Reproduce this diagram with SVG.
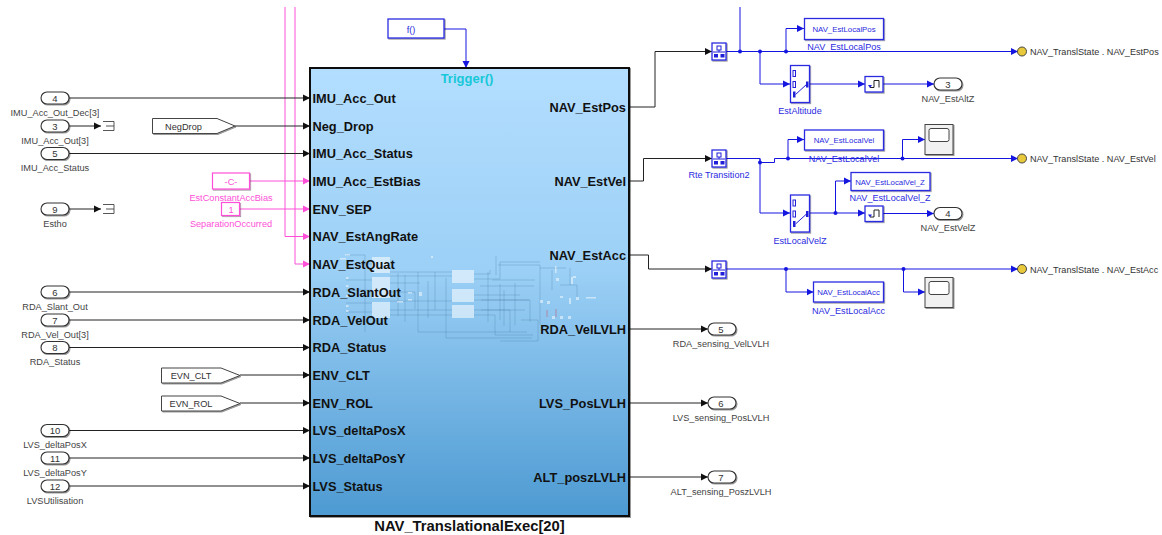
<svg xmlns="http://www.w3.org/2000/svg" width="1162" height="535" viewBox="0 0 1162 535">
<style>
text{font-family:"Liberation Sans",Arial,sans-serif}
.l{font-size:9.200px;fill:#444;text-anchor:middle}
.n{font-size:9.500px;fill:#333;text-anchor:middle}
.b{font-size:9.100px;fill:#2a2ae0;text-anchor:middle}
.bb{font-size:7.800px;fill:#2a2ae0;text-anchor:middle}
.p{font-size:9.200px;fill:#ff50d8;text-anchor:middle}
.pt{font-size:12.800px;font-weight:bold;fill:#111}
.r{text-anchor:end}
.g{font-size:9.200px;fill:#333;text-anchor:middle}
.st{font-size:9.100px;fill:#333}
.pill{fill:#fff;stroke:#333;stroke-width:1.1;filter:url(#s)}
.goto{fill:#fff;stroke:#444;stroke-width:1;filter:url(#s)}
.bk{fill:#fff;stroke:#2a2ae0;stroke-width:1.3;filter:url(#s)}
.pk{fill:#fff;stroke:#ff50d8;stroke-width:1.2;filter:url(#s)}
.wk{fill:none;stroke:#222;stroke-width:1}
.wb{fill:none;stroke:#1515e0;stroke-width:1}
.wp{fill:none;stroke:#ff50d8;stroke-width:1}
.ak{marker-end:url(#ak)}.ab{marker-end:url(#ab)}.ap{marker-end:url(#ap)}
.ic{fill:#2020d8}
.icl{fill:none;stroke:#2020d8;stroke-width:1}
.gh{fill:none;stroke:#3a6f98;stroke-width:.7;opacity:.35}
.gr{fill:#fff;opacity:.55}
.gs{fill:#fff;opacity:.5}
</style>
<defs>
<linearGradient id="bg" x1="0" y1="0" x2="0" y2="1"><stop offset="0" stop-color="#b3deff"/><stop offset=".45" stop-color="#9cd0f6"/><stop offset="1" stop-color="#4d9ad2"/></linearGradient>
<filter id="s" x="-20%" y="-20%" width="150%" height="150%"><feDropShadow dx="1" dy="1" stdDeviation=".7" flood-color="#000" flood-opacity=".4"/></filter>
<marker id="ak" markerUnits="userSpaceOnUse" markerWidth="8" markerHeight="8" refX="7" refY="4" orient="auto"><path d="M0,.5L7,4L0,7.5z" fill="#111"/></marker>
<marker id="ab" markerUnits="userSpaceOnUse" markerWidth="8" markerHeight="8" refX="7" refY="4" orient="auto"><path d="M0,.5L7,4L0,7.5z" fill="#1515e0"/></marker>
<marker id="ap" markerUnits="userSpaceOnUse" markerWidth="8" markerHeight="8" refX="7" refY="4" orient="auto"><path d="M0,.5L7,4L0,7.5z" fill="#ff50d8"/></marker>
<g id="rt"><rect class="bk" x="0" y="0" width="14" height="17"/><rect class="icl" x="5" y="3" width="4" height="4"/><path class="icl" d="M7,7V9"/><path class="icl" d="M1,9H13"/><rect class="ic" x="2" y="11" width="4" height="3.5"/><rect class="ic" x="8.500" y="11" width="4" height="3.500"/></g>
<g id="sw"><rect class="bk" x="0" y="0" width="19" height="37"/><rect class="icl" x="2.500" y="5" width="2.500" height="6"/><rect class="icl" x="2.500" y="16" width="2.500" height="6"/><rect class="ic" x="2.500" y="26" width="2.500" height="6"/><rect class="ic" x="15.500" y="16" width="2.500" height="6"/><path class="icl" d="M5,29L16,19"/></g>
<g id="uz"><rect class="bk" x="0" y="0" width="18" height="15.500"/><path d="M5,11H9V4H14V11" fill="none" stroke="#222" stroke-width="1"/><path d="M3,8.500L5,11.500L7,8.500z" fill="#2020d8"/></g>
<g id="sc"><rect x="0" y="0" width="28" height="30" fill="#f1f1f1" stroke="#444" stroke-width="1" filter="url(#s)"/><rect x="4" y="4" width="20" height="13" rx="2" fill="#fff" stroke="#444" stroke-width="1"/></g>
<g id="tm"><path d="M0,.5H11V9.500H0M3,5H11" fill="none" stroke="#444" stroke-width=".9"/></g>
</defs>

<g id="connectors">
<path class="wp ap" d="M285,7V236.500H310"/>
<path class="wp ap" d="M295,7V264H310"/>
<path class="wp ap" d="M249,181H310"/>
<path class="wp ap" d="M240,209H310"/>
<path class="wk ak" d="M69,98H310"/>
<path class="wk ak" d="M69,126H101"/>
<path class="wk ak" d="M235,126H310"/>
<path class="wk ak" d="M69,153.500H310"/>
<path class="wk ak" d="M69,209H101"/>
<path class="wk ak" d="M69,292H310"/>
<path class="wk ak" d="M69,320H310"/>
<path class="wk ak" d="M69,347.500H310"/>
<path class="wk ak" d="M240,375H310"/>
<path class="wk ak" d="M240,403H310"/>
<path class="wk ak" d="M69,430.500H310"/>
<path class="wk ak" d="M69,458H310"/>
<path class="wk ak" d="M69,486H310"/>
<path class="wb ab" d="M444,29H466V68"/>
<path class="wk ak" d="M629,107H655V51.500H712"/>
<path class="wk ak" d="M629,181H643.500V158.500H712"/>
<path class="wk ak" d="M629,255H648.500V269H712"/>
<path class="wk ak" d="M629,329H708"/>
<path class="wk ak" d="M629,403H708"/>
<path class="wk ak" d="M629,477H708"/>
<path class="wb" d="M740,7V51.500"/>
<path class="wb ab" d="M726,51.500H1018"/>
<path class="wb ab" d="M786,51.500V28.500H804"/>
<path class="wb ab" d="M760,51.500V84H790"/>
<path class="wb ab" d="M809,84H865"/>
<path class="wb ab" d="M883,84H934"/>
<path class="wb" d="M726,158.500H760V162.500H774.500V158.500"/>
<path class="wb ab" d="M774.500,158.500H1018"/>
<path class="wb ab" d="M760,158.500V213H790"/>
<path class="wb ab" d="M788,158.500V139.500H804"/>
<path class="wb ab" d="M902.500,158.500V139.500H925"/>
<path class="wb ab" d="M809,213H865"/>
<path class="wb ab" d="M835.500,213V181H851"/>
<path class="wb ab" d="M883,213.500H934"/>
<path class="wb ab" d="M726,269H1018"/>
<path class="wb ab" d="M786,269V292H813.500"/>
<path class="wb ab" d="M903.500,269V292H925"/>
<g fill="#1515e0">
<circle cx="740" cy="51.500" r="2"/><circle cx="760" cy="51.500" r="2"/><circle cx="786" cy="51.500" r="2"/>
<circle cx="760" cy="162.500" r="2"/><circle cx="788" cy="158.500" r="2"/><circle cx="902.500" cy="158.500" r="2"/>
<circle cx="835.500" cy="213" r="2"/><circle cx="786" cy="269" r="2"/><circle cx="903.500" cy="269" r="2"/>
</g>
</g>

<g id="NAV_TranslationalExec">
<rect x="310" y="68" width="319" height="448" fill="url(#bg)" stroke="#111" stroke-width="2" filter="url(#s)"/>
<g id="ghost">
<rect class="gr" x="372" y="257" width="18" height="16"/><rect class="gr" x="372" y="277" width="18" height="21"/><rect class="gr" x="372" y="302" width="18" height="16"/>
<rect class="gr" x="452" y="270" width="22" height="13"/><rect class="gr" x="452" y="289" width="22" height="13"/><rect class="gr" x="452" y="305" width="22" height="13"/>
<path class="gh" d="M346,255H365V332M346,264H372M346,280H372M346,290H372M346,303H372M346,312H372M390,272H452M390,276H452M390,283H420M390,292H415V309M390,301H452M390,310H452M390,315H452M398,273V316M405,275V322M418,272V332H527M428,281V318M435,272V310M446,278V338H532M474,274H490V270M474,279H500V262H540M474,295H520M474,300H530V322M474,310H510V332M474,315H495V335H533M496,256V275M498,265H540V325M488,272V322M492,280H535M500,284V320M504,290V326M515,283V325M480,286H534M481,300H529M481,310H525M521,320H538V341H500M540,268H566M552,270V290M570,268V285M560,285H577V297"/>
<g class="gs"><rect x="340" y="258" width="6" height="1.500"/><rect x="345" y="254" width="5" height="1.500"/><rect x="346" y="277" width="2.500" height="2"/><rect x="346" y="285" width="2.500" height="2"/><rect x="346" y="295" width="2.500" height="2"/><rect x="346" y="305" width="2.500" height="2"/><rect x="346" y="310" width="2.500" height="2"/><rect x="408" y="292" width="4" height="1.500"/><rect x="408" y="299" width="4" height="1.500"/><rect x="419" y="292" width="3" height="4"/><rect x="397" y="301" width="6" height="1.500"/><rect x="431" y="256" width="2" height="2"/><rect x="555" y="250" width="2" height="2"/><rect x="555" y="266" width="1.500" height="7"/><rect x="571" y="277" width="2" height="7"/><rect x="556" y="278" width="3" height="3"/><rect x="573" y="276" width="3" height="2"/><rect x="540" y="300" width="3" height="3"/><rect x="547" y="301" width="3" height="3"/><rect x="560" y="296" width="3" height="2"/><rect x="569" y="298" width="2" height="6"/><rect x="576" y="297" width="3" height="3"/><rect x="586" y="297" width="10" height="1.500"/><rect x="552" y="316" width="3" height="3"/><rect x="560" y="316" width="3" height="3"/><rect x="568" y="316" width="3" height="3"/></g>
<path d="M547,310V317M556,309V317" stroke="#c06a80" stroke-width=".8" opacity=".8"/>
</g>
<text x="467" y="83" font-size="13" font-weight="bold" fill="#16c8d8" text-anchor="middle">Trigger()</text>
<text class="pt" x="312.500" y="102.500">IMU_Acc_Out</text>
<text class="pt" x="312.500" y="131">Neg_Drop</text>
<text class="pt" x="312.500" y="158">IMU_Acc_Status</text>
<text class="pt" x="312.500" y="186">IMU_Acc_EstBias</text>
<text class="pt" x="312.500" y="213.500">ENV_SEP</text>
<text class="pt" x="312.500" y="241">NAV_EstAngRate</text>
<text class="pt" x="312.500" y="269">NAV_EstQuat</text>
<text class="pt" x="312.500" y="297">RDA_SlantOut</text>
<text class="pt" x="312.500" y="325">RDA_VelOut</text>
<text class="pt" x="312.500" y="352">RDA_Status</text>
<text class="pt" x="312.500" y="380">ENV_CLT</text>
<text class="pt" x="312.500" y="408">ENV_ROL</text>
<text class="pt" x="312.500" y="435">LVS_deltaPosX</text>
<text class="pt" x="312.500" y="463">LVS_deltaPosY</text>
<text class="pt" x="312.500" y="491">LVS_Status</text>
<text class="pt r" x="626" y="112">NAV_EstPos</text>
<text class="pt r" x="626" y="186">NAV_EstVel</text>
<text class="pt r" x="626" y="260">NAV_EstAcc</text>
<text class="pt r" x="626" y="334">RDA_VelLVLH</text>
<text class="pt r" x="626" y="408">LVS_PosLVLH</text>
<text class="pt r" x="626" y="482">ALT_poszLVLH</text>
<text x="469.500" y="531" font-size="14.800" font-weight="bold" fill="#111" text-anchor="middle">NAV_TranslationalExec[20]</text>
</g>

<g id="in4"><rect class="pill" x="41" y="92" width="28" height="12" rx="6"/><text class="n" x="55" y="101.500">4</text><text class="l" x="55" y="116">IMU_Acc_Out_Dec[3]</text></g>
<g id="in3"><rect class="pill" x="41" y="120" width="28" height="12" rx="6"/><text class="n" x="55" y="129.500">3</text><text class="l" x="55" y="143.500">IMU_Acc_Out[3]</text></g>
<g id="in5"><rect class="pill" x="41" y="147.500" width="28" height="12" rx="6"/><text class="n" x="55" y="157">5</text><text class="l" x="55" y="171">IMU_Acc_Status</text></g>
<g id="in9"><rect class="pill" x="41" y="203" width="28" height="12" rx="6"/><text class="n" x="55" y="212.500">9</text><text class="l" x="55" y="227">Estho</text></g>
<g id="in6"><rect class="pill" x="41" y="286" width="28" height="12" rx="6"/><text class="n" x="55" y="295.500">6</text><text class="l" x="55" y="310">RDA_Slant_Out</text></g>
<g id="in7"><rect class="pill" x="41" y="314" width="28" height="12" rx="6"/><text class="n" x="55" y="323.500">7</text><text class="l" x="55" y="338">RDA_Vel_Out[3]</text></g>
<g id="in8"><rect class="pill" x="41" y="341.500" width="28" height="12" rx="6"/><text class="n" x="55" y="351">8</text><text class="l" x="55" y="365">RDA_Status</text></g>
<g id="in10"><rect class="pill" x="41" y="424.500" width="28" height="12" rx="6"/><text class="n" x="55" y="434">10</text><text class="l" x="55" y="448">LVS_deltaPosX</text></g>
<g id="in11"><rect class="pill" x="41" y="452" width="28" height="12" rx="6"/><text class="n" x="55" y="461.500">11</text><text class="l" x="55" y="476">LVS_deltaPosY</text></g>
<g id="in12"><rect class="pill" x="41" y="480" width="28" height="12" rx="6"/><text class="n" x="55" y="489.500">12</text><text class="l" x="55" y="504">LVSUtilisation</text></g>

<g id="term1"><use href="#tm" x="103" y="121"/></g>
<g id="term2"><use href="#tm" x="103" y="204"/></g>

<g id="gotoNegDrop"><path class="goto" d="M152.500,118.500H217L235,126L217,133.500H152.500z"/><text class="g" x="183.500" y="129.500">NegDrop</text></g>
<g id="gotoCLT"><path class="goto" d="M161.500,368H221L240,375.500L221,383H161.500z"/><text class="g" x="191" y="379">EVN_CLT</text></g>
<g id="gotoROL"><path class="goto" d="M161.500,396H221L240,403.500L221,411H161.500z"/><text class="g" x="191" y="407">EVN_ROL</text></g>

<g id="constC"><rect class="pk" x="212.500" y="173" width="37" height="16"/><text class="p" x="231" y="184.500">-C-</text><text class="p" x="231" y="201">EstConstantAccBias</text></g>
<g id="const1"><rect class="pk" x="221.500" y="202.500" width="18" height="13"/><text class="p" x="231" y="212.500">1</text><text class="p" x="231" y="227">SeparationOccurred</text></g>

<g id="fn"><rect class="bk" x="388" y="19" width="56" height="19"/><text class="b" x="411" y="32.500">f()</text></g>

<g id="rt1"><use href="#rt" x="712" y="43"/></g>
<g id="rt2"><use href="#rt" x="712" y="150"/><text class="b" x="719" y="178">Rte Transition2</text></g>
<g id="rt3"><use href="#rt" x="712" y="261"/></g>

<g id="localPos"><rect class="bk" x="804.500" y="18.500" width="79" height="21"/><text class="bb" x="844" y="31.500">NAV_EstLocalPos</text><text class="b" x="844" y="50">NAV_EstLocalPos</text></g>
<g id="estAltitude"><use href="#sw" x="790.500" y="65.500"/><text class="b" x="800" y="114">EstAltitude</text></g>
<g id="uz1"><use href="#uz" x="865" y="76.500"/></g>
<g id="out3"><rect class="pill" x="934" y="78" width="28" height="12" rx="6"/><text class="n" x="948" y="87.500">3</text><text class="l" x="948" y="102">NAV_EstAltZ</text></g>

<g id="localVel"><rect class="bk" x="804.500" y="130" width="79" height="20"/><text class="bb" x="844" y="142.500">NAV_EstLocalVel</text><text class="b" x="844" y="161.500">NAV_EstLocalVel</text></g>
<g id="scope1"><use href="#sc" x="925" y="124.500"/></g>
<g id="estLocalVelZ"><use href="#sw" x="790.500" y="195"/><text class="b" x="800" y="243.500">EstLocalVelZ</text></g>
<g id="localVelZ"><rect class="bk" x="851" y="172.500" width="79" height="18"/><text class="bb" x="890" y="184.500">NAV_EstLocalVel_Z</text><text class="b" x="890" y="201">NAV_EstLocalVel_Z</text></g>
<g id="uz2"><use href="#uz" x="865" y="206"/></g>
<g id="out4"><rect class="pill" x="934" y="207.500" width="28" height="12" rx="6"/><text class="n" x="948" y="217">4</text><text class="l" x="948" y="231">NAV_EstVelZ</text></g>

<g id="localAcc"><rect class="bk" x="813.500" y="282" width="70" height="20"/><text class="bb" x="848.500" y="294.500">NAV_EstLocalAcc</text><text class="b" x="848.500" y="313.500">NAV_EstLocalAcc</text></g>
<g id="scope2"><use href="#sc" x="925" y="277.500"/></g>

<g id="out5"><rect class="pill" x="708" y="323" width="28" height="12" rx="6"/><text class="n" x="721" y="332.500">5</text><text class="l" x="721" y="347">RDA_sensing_VelLVLH</text></g>
<g id="out6"><rect class="pill" x="708" y="397" width="28" height="12" rx="6"/><text class="n" x="721" y="406.500">6</text><text class="l" x="721" y="421">LVS_sensing_PosLVLH</text></g>
<g id="out7"><rect class="pill" x="708" y="471" width="28" height="12" rx="6"/><text class="n" x="721" y="480.500">7</text><text class="l" x="721" y="495">ALT_sensing_PoszLVLH</text></g>

<g id="stPos"><circle cx="1022" cy="51.500" r="4.500" fill="#e8c93c" stroke="#444" stroke-width="1"/><text class="st" x="1030" y="55">NAV_TranslState . NAV_EstPos</text></g>
<g id="stVel"><circle cx="1022" cy="158.500" r="4.500" fill="#e8c93c" stroke="#444" stroke-width="1"/><text class="st" x="1030" y="162">NAV_TranslState . NAV_EstVel</text></g>
<g id="stAcc"><circle cx="1022" cy="269" r="4.500" fill="#e8c93c" stroke="#444" stroke-width="1"/><text class="st" x="1030" y="272.500">NAV_TranslState . NAV_EstAcc</text></g>
</svg>
